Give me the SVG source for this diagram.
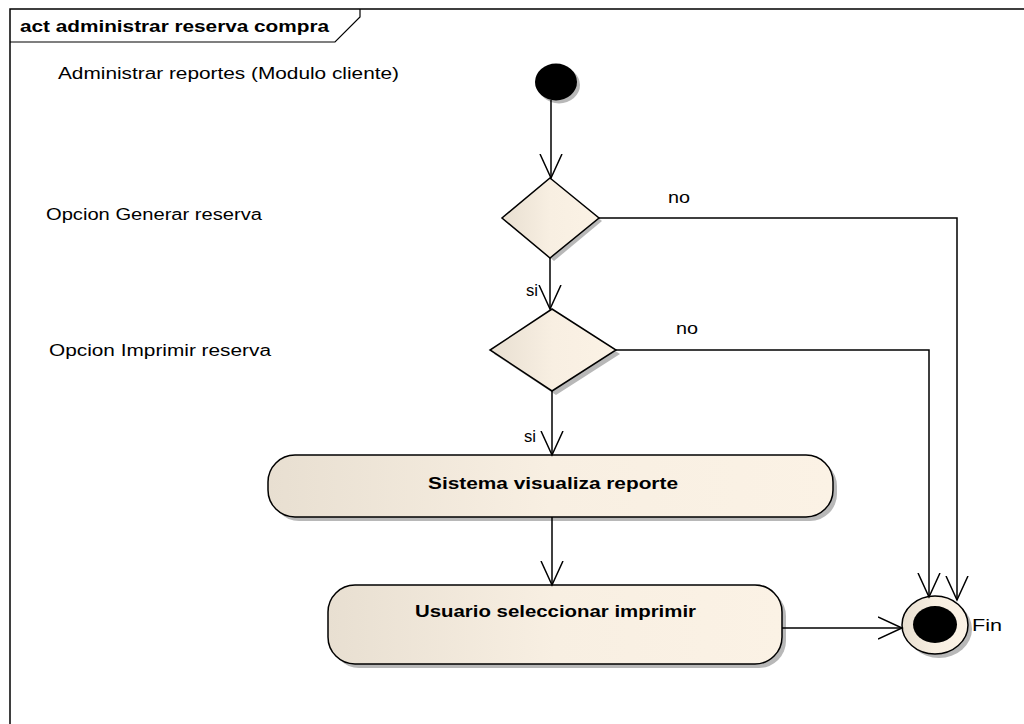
<svg xmlns="http://www.w3.org/2000/svg" width="1024" height="724" viewBox="0 0 1024 724">
<defs>
<linearGradient id="g" x1="0" y1="0" x2="1" y2="0">
<stop offset="0" stop-color="#e8dfd1"/>
<stop offset="0.5" stop-color="#f8efe2"/>
<stop offset="1" stop-color="#fbf2e5"/>
</linearGradient>
<marker id="arr" markerWidth="26" markerHeight="24" refX="24" refY="12" orient="auto" markerUnits="userSpaceOnUse">
<path d="M0,1 L24,12 L0,23" fill="none" stroke="#000" stroke-width="1.5"/>
</marker>
</defs>
<style>
.t{font-family:"Liberation Sans",Arial,sans-serif;font-size:16px;fill:#000}
.b{font-family:"Liberation Sans",Arial,sans-serif;font-size:16px;font-weight:bold;fill:#000}
.shape{fill:url(#g);stroke:#000;stroke-width:1.5}
.sh{fill:#b8b8b8}
.c{fill:none;stroke:#000;stroke-width:1.5}
</style>
<rect width="1024" height="724" fill="#fff"/>
<g id="frame">
<path d="M10,724 V9 H1024" fill="none" stroke="#000" stroke-width="1.5"/>
<path d="M10,42 H335 L360,17 V9" fill="none" stroke="#000" stroke-width="1.2"/>
<text class="b" x="20" y="32" textLength="309" lengthAdjust="spacingAndGlyphs">act administrar reserva compra</text>
</g>
<g id="labels">
<text class="t" x="58" y="79" textLength="341" lengthAdjust="spacingAndGlyphs">Administrar reportes (Modulo cliente)</text>
<text class="t" x="46" y="220" textLength="216" lengthAdjust="spacingAndGlyphs">Opcion Generar reserva</text>
<text class="t" x="49" y="356" textLength="222" lengthAdjust="spacingAndGlyphs">Opcion Imprimir reserva</text>
</g>
<g id="start">
<ellipse cx="559" cy="85" rx="21" ry="18.5" class="sh"/>
<ellipse cx="556" cy="82" rx="21" ry="18.5" fill="#000"/>
</g>
<g id="decision1">
<path d="M554,182 L602,221 L554,261 L506,221 Z" class="sh"/>
<path d="M550,178 L599,218 L550,258 L502,218 Z" class="shape"/>
</g>
<g id="decision2">
<path d="M556,313 L620,354 L556,395 L494,354 Z" class="sh"/>
<path d="M552,309 L616,350 L552,391 L490,350 Z" class="shape"/>
</g>
<g id="act1">
<rect x="272" y="459" width="565" height="62" rx="27" class="sh"/>
<rect x="268" y="455" width="565" height="62" rx="27" class="shape"/>
<text class="b" x="428" y="489" textLength="250" lengthAdjust="spacingAndGlyphs">Sistema visualiza reporte</text>
</g>
<g id="act2">
<rect x="332" y="589" width="454" height="79" rx="27" class="sh"/>
<rect x="328" y="585" width="454" height="79" rx="27" class="shape"/>
<text class="b" x="415" y="617" textLength="281" lengthAdjust="spacingAndGlyphs">Usuario seleccionar imprimir</text>
</g>
<g id="final">
<ellipse cx="939" cy="629" rx="33" ry="29" class="sh"/>
<ellipse cx="935" cy="625" rx="33" ry="29" class="shape"/>
<ellipse cx="935" cy="624.5" rx="22" ry="18.5" fill="#000"/>
<text class="t" x="972" y="631" textLength="30" lengthAdjust="spacingAndGlyphs">Fin</text>
</g>
<g id="connectors">
<path d="M551,100 V178" class="c" marker-end="url(#arr)"/>
<path d="M550,258 V309" class="c" marker-end="url(#arr)"/>
<path d="M552,391 V455" class="c" marker-end="url(#arr)"/>
<path d="M552,517 V585" class="c" marker-end="url(#arr)"/>
<path d="M599,218 H957 V600" class="c" marker-end="url(#arr)"/>
<path d="M616,350 H929 V597" class="c" marker-end="url(#arr)"/>
<path d="M782,628 H902" class="c" marker-end="url(#arr)"/>
<text class="t" x="668" y="203" textLength="22" lengthAdjust="spacingAndGlyphs">no</text>
<text class="t" x="676" y="334" textLength="22" lengthAdjust="spacingAndGlyphs">no</text>
<text class="t" x="526" y="296" textLength="12" lengthAdjust="spacingAndGlyphs">si</text>
<text class="t" x="524" y="442" textLength="12" lengthAdjust="spacingAndGlyphs">si</text>
</g>
</svg>
